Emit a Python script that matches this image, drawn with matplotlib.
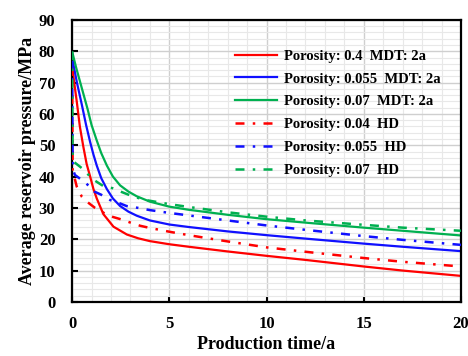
import matplotlib
matplotlib.use('Agg')
import matplotlib.pyplot as plt
from matplotlib.ticker import MultipleLocator

plt.rcParams['font.family'] = 'Liberation Serif'
plt.rcParams['font.weight'] = 'bold'

# solid curves (MDT: 2a)
x_mdt_04 = [0, 0.12, 0.24, 0.4, 0.58, 0.75, 0.93, 1.1, 1.27, 1.61, 2.13, 2.82, 3.4, 4, 5, 6, 8, 10, 12, 15, 17, 20]
p_mdt_04 = [75.5, 69.5, 64, 56, 49.5, 44, 40, 36, 33, 28, 24, 21.5, 20.3, 19.4, 18.4, 17.6, 16.1, 14.7, 13.4, 11.3, 10, 8.3]
x_mdt_055 = [0, 0.25, 0.5, 0.72, 0.93, 1.1, 1.27, 1.5, 1.79, 2.1, 2.47, 2.9, 3.33, 4, 5, 6, 8, 10, 12, 15, 17, 20]
p_mdt_055 = [78, 70, 63, 56.5, 51, 47, 43.5, 39.5, 36, 33, 30.6, 28.8, 27.5, 26, 24.7, 23.9, 22.5, 21.3, 20.2, 18.6, 17.6, 16.2]
x_mdt_07 = [0, 0.2, 0.4, 0.6, 0.8, 1, 1.27, 1.5, 1.79, 2.1, 2.47, 2.9, 3.33, 4, 5, 6, 8, 10, 12, 15, 17, 20]
p_mdt_07 = [80, 75, 70.5, 66, 61.5, 56.5, 51.5, 47.5, 43.5, 40, 37.2, 35.2, 33.7, 32, 30.4, 29.4, 27.8, 26.4, 25.3, 23.7, 22.7, 21.2]

# dash-dot curves (HD)
x_hd_04 = [0, 0.03, 0.24, 0.5, 0.76, 1.18, 1.8, 2.05, 2.6, 3.05, 3.5, 4, 5, 6, 8, 10, 12, 15, 17, 20]
p_hd_04 = [75, 42, 36.8, 33.6, 32, 30, 27.8, 27.2, 26.2, 25.2, 24.3, 23.6, 22.4, 21.3, 19.3, 17.4, 16, 14, 12.8, 11.3]
x_hd_055 = [0, 0.03, 0.15, 0.7, 1.15, 1.5, 1.96, 2.4, 2.8, 3.4, 4, 5, 6, 8, 10, 12, 15, 17, 20]
p_hd_055 = [77, 42.5, 40.5, 38, 35.2, 34.2, 32.5, 31.6, 30.6, 30, 29.3, 28.4, 27.6, 26, 24.4, 23, 21, 19.8, 18.2]
x_hd_07 = [0, 0.03, 0.5, 0.67, 1.1, 1.65, 2.08, 2.5, 3.15, 3.8, 5, 6, 8, 10, 12, 15, 17, 20]
p_hd_07 = [80, 45, 42.7, 41.6, 39, 36.8, 36.3, 35.2, 33.6, 32.5, 31.2, 30.3, 28.6, 27.2, 26, 24.6, 23.7, 22.7]

labels = ['Porosity: 0.4  MDT: 2a', 'Porosity: 0.055  MDT: 2a', 'Porosity: 0.07  MDT: 2a',
          'Porosity: 0.04  HD', 'Porosity: 0.055  HD', 'Porosity: 0.07  HD']

red, blue, green = '#ff0000', '#1010ff', '#00b050'
dashdot = (0, (3.6, 3.3, 1, 3.3))

fig = plt.figure(figsize=(4.68, 3.56), dpi=100)
ax = fig.add_axes([0.154, 0.152, 0.831, 0.792])

ax.plot(x_mdt_04, p_mdt_04, color=red, lw=1.6, label=labels[0])
ax.plot(x_mdt_055, p_mdt_055, color=blue, lw=1.6, label=labels[1])
ax.plot(x_mdt_07, p_mdt_07, color=green, lw=1.6, label=labels[2])
ax.plot(x_hd_04, p_hd_04, color=red, lw=1.8, linestyle=dashdot, label=labels[3], zorder=3)
ax.plot(x_hd_055, p_hd_055, color=blue, lw=1.8, linestyle=dashdot, label=labels[4], zorder=3)
ax.plot(x_hd_07, p_hd_07, color=green, lw=1.8, linestyle=dashdot, label=labels[5], zorder=3)

ax.set_xlim(0, 20)
ax.set_ylim(0, 90)
ax.xaxis.set_major_locator(MultipleLocator(5))
ax.xaxis.set_minor_locator(MultipleLocator(1))
ax.yaxis.set_major_locator(MultipleLocator(10))
ax.yaxis.set_minor_locator(MultipleLocator(2))
ax.grid(which='major', color='#cfcfcf', lw=1.0)
ax.grid(which='minor', color='#e8e8e8', lw=0.8)
ax.set_axisbelow(True)

ax.tick_params(which='major', direction='in', length=4, width=1.5, labelsize=12)
ax.tick_params(axis='x', which='major', pad=10)
ax.tick_params(axis='y', which='major', pad=12)
ax.tick_params(which='minor', length=0)
for s in ax.spines.values():
    s.set_linewidth(1.6)

ax.set_xlabel('Production time/a', fontsize=13, fontweight='bold', labelpad=3)
ax.set_ylabel('Average reservoir pressure/MPa', fontsize=13, fontweight='bold', labelpad=2)

ax.legend(loc='upper left', bbox_to_anchor=(0.419, 0.895), frameon=False, fontsize=10.5,
          handlelength=2.9, handletextpad=0.45, labelspacing=0.66, borderpad=0, borderaxespad=0)

fig.savefig('out.png', dpi=100)
